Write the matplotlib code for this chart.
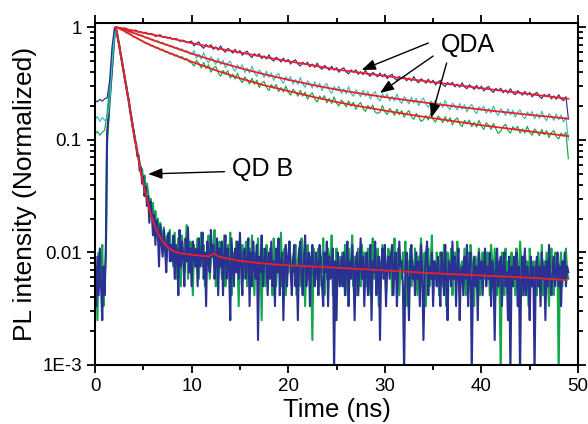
import numpy as np
import matplotlib
matplotlib.use('Agg')
import matplotlib.pyplot as plt
from matplotlib.ticker import LogLocator, MultipleLocator, NullFormatter

# QD A decays, sampled every 0.25 ns, in 1/1000 of the peak
QDA_STEP = 0.25
qda_blue = [
    225, 218, 229, 221, 232, 236, 330, 660, 985, 1000,
    996, 973, 988, 979, 941, 922, 939, 944, 902, 912,
    889, 906, 864, 880, 871, 829, 848, 859, 815, 830,
    801, 818, 780, 797, 789, 751, 770, 763, 729, 745,
    754, 684, 722, 743, 680, 651, 705, 671, 701, 636,
    671, 628, 684, 628, 602, 651, 626, 590, 638, 590,
    622, 565, 596, 615, 562, 539, 584, 557, 582, 528,
    558, 523, 570, 523, 502, 543, 522, 492, 533, 492,
    520, 472, 500, 515, 472, 453, 491, 468, 490, 445,
    471, 441, 481, 441, 424, 459, 440, 416, 451, 416,
    439, 399, 424, 437, 401, 386, 419, 400, 419, 382,
    404, 380, 415, 382, 367, 398, 383, 363, 393, 364,
    385, 350, 371, 383, 352, 338, 367, 351, 368, 335,
    355, 334, 365, 336, 322, 349, 337, 319, 346, 320,
    339, 308, 327, 338, 310, 298, 324, 310, 325, 296,
    313, 294, 321, 296, 285, 309, 297, 281, 306, 283,
    300, 272, 290, 299, 274, 264, 287, 274, 288, 262,
    278, 260, 285, 262, 252, 274, 263, 250, 270, 250,
    265, 241, 256, 264, 243, 233, 254, 242, 255, 231,
    246, 230, 252, 232, 223, 242, 155]
qda_cyan = [
    152, 161, 146, 158, 149, 155, 205, 450, 820, 995,
    978, 991, 947, 952, 911, 925, 878, 893, 851, 862,
    842, 801, 816, 774, 788, 745, 761, 720, 738, 699,
    709, 671, 688, 649, 667, 627, 645, 604, 622, 583,
    577, 621, 530, 580, 520, 596, 518, 483, 550, 515,
    468, 531, 467, 511, 436, 479, 502, 436, 407, 464,
    429, 464, 396, 435, 392, 452, 393, 367, 419, 393,
    358, 409, 360, 395, 338, 372, 391, 340, 318, 364,
    338, 365, 313, 345, 311, 359, 314, 293, 335, 315,
    288, 329, 290, 318, 273, 302, 317, 277, 259, 298,
    276, 300, 258, 284, 257, 297, 260, 244, 279, 263,
    241, 276, 244, 269, 231, 255, 269, 235, 222, 255,
    237, 257, 222, 244, 222, 256, 224, 211, 242, 229,
    209, 240, 212, 234, 201, 223, 236, 206, 194, 222,
    207, 225, 194, 214, 194, 224, 197, 185, 212, 201,
    184, 211, 187, 206, 177, 196, 207, 182, 171, 197,
    184, 199, 172, 190, 173, 200, 175, 165, 190, 179,
    165, 189, 167, 184, 159, 175, 185, 163, 154, 177,
    165, 179, 154, 171, 155, 180, 158, 148, 171, 162,
    149, 170, 151, 167, 144, 159, 100]
qda_green = [
    113, 119, 110, 117, 122, 174, 295, 500, 850, 1000,
    984, 941, 938, 893, 889, 861, 818, 815, 779, 772,
    752, 718, 723, 684, 691, 655, 664, 628, 639, 602,
    611, 578, 591, 555, 569, 536, 549, 514, 528, 493,
    483, 452, 508, 477, 435, 488, 431, 465, 400, 433,
    450, 394, 368, 415, 385, 412, 354, 384, 347, 392,
    344, 322, 364, 342, 314, 353, 312, 339, 292, 318,
    332, 292, 274, 310, 288, 310, 269, 292, 266, 301,
    265, 250, 282, 266, 244, 276, 245, 266, 230, 251,
    262, 231, 217, 246, 229, 247, 213, 233, 211, 241,
    212, 200, 226, 214, 196, 222, 199, 216, 187, 205,
    215, 189, 179, 202, 189, 204, 177, 172, 176, 202,
    178, 168, 190, 180, 165, 188, 168, 182, 159, 173,
    182, 161, 152, 172, 161, 146, 151, 165, 150, 172,
    152, 144, 163, 155, 142, 161, 144, 157, 136, 150,
    157, 139, 131, 149, 139, 150, 131, 143, 130, 149,
    132, 124, 142, 135, 124, 140, 125, 114, 120, 131,
    138, 121, 115, 131, 123, 132, 115, 125, 115, 132,
    116, 110, 125, 118, 109, 124, 111, 121, 105, 116,
    121, 107, 102, 115, 108, 117, 68]

# fitted curves for QD A
qda_fit_t = [2.25, 3, 4, 5, 6, 7.5, 10, 12.5, 15, 17.5, 20, 22.5, 25,
             27.5, 30, 32.5, 35, 37.5, 40, 42.5, 45, 47.5, 49]
qda_blue_fit = [1.0, 0.97, 0.935, 0.895, 0.86, 0.81, 0.725, 0.655, 0.598, 0.545,
                0.50, 0.46, 0.422, 0.395, 0.370, 0.347, 0.326, 0.306, 0.288,
                0.271, 0.255, 0.240, 0.232]
qda_cyan_fit = [1.0, 0.955, 0.89, 0.83, 0.77, 0.695, 0.585, 0.50, 0.435, 0.383,
                0.342, 0.308, 0.28, 0.258, 0.240, 0.224, 0.210, 0.197, 0.186,
                0.176, 0.167, 0.159, 0.154]
qda_green_fit = [1.0, 0.93, 0.83, 0.745, 0.68, 0.60, 0.495, 0.415, 0.352, 0.306,
                 0.272, 0.242, 0.217, 0.198, 0.182, 0.168, 0.156, 0.145, 0.135,
                 0.127, 0.119, 0.112, 0.108]

# QD B decays, photon counts every 0.125 ns
QDB_STEP = 0.125
QDB_PEAK = 1200
qdb_blue = [
    7, 4, 11, 5, 13, 6, 3, 9, 5,
    14, 137, 190, 266, 371, 514, 716, 998, 1200,
    1101, 948, 842, 711, 630, 534, 472, 398, 357, 296, 270, 218, 197,
    158, 146, 117, 112, 86, 88, 64, 69, 49, 56, 38, 46, 31,
    38, 22, 34, 27, 17, 26, 14, 23, 19, 9, 21, 15, 11, 19, 13, 8, 16, 18, 10, 14,
    10, 17, 7, 14, 12, 5, 19, 9, 15, 11, 6, 16, 10, 20, 8, 13, 6, 15, 12, 9,
    13, 6, 16, 9, 11, 18, 7, 12, 4, 15, 10, 8, 19, 11, 14, 7, 10, 16, 5, 13,
    9, 15, 5, 11, 17, 7, 13, 9, 3, 16, 10, 6, 13, 8, 15, 7, 18, 9, 5, 12,
    13, 7, 10, 16, 4, 12, 6, 15, 9, 7, 14, 2, 11, 8, 17, 6, 9, 13, 10, 5,
    12, 7, 15, 6, 10, 4, 13, 8, 16, 5, 10, 12, 3, 9, 14, 6, 11, 15, 8, 5,
    10, 14, 6, 9, 3, 12, 15, 8, 5, 11, 17, 6, 9, 12, 4, 10, 14, 8, 6, 12,
    9, 5, 14, 10, 6, 4, 12, 8, 15, 4, 11, 7, 9, 13, 1, 10, 3, 12, 8, 6,
    11, 6, 12, 5, 9, 15, 4, 10, 7, 14, 8, 3, 10, 12, 5, 9, 16, 7, 11, 4,
    9, 12, 5, 7, 14, 3, 10, 8, 15, 5, 8, 11, 2, 9, 13, 7, 14, 4, 9, 11,
    7, 11, 14, 5, 9, 12, 4, 8, 15, 9, 10, 6, 1, 9, 12, 7, 3, 10, 14, 7,
    9, 5, 12, 7, 10, 4, 14, 8, 2, 7, 11, 15, 5, 9, 7, 12, 4, 10, 9, 6,
    11, 7, 4, 12, 9, 5, 14, 7, 3, 10, 9, 6, 15, 7, 11, 4, 9, 13, 3, 8,
    9, 5, 11, 7, 14, 4, 9, 12, 1, 7, 11, 6, 9, 3, 12, 7, 10, 5, 9, 13,
    6, 9, 7, 12, 4, 10, 8, 2, 9, 13, 6, 8, 11, 4, 9, 12, 6, 8, 3, 11,
    1, 9, 6, 11, 7, 12, 4, 9, 1, 8, 11, 5, 13, 5, 9, 7, 3, 11, 6, 9,
    1, 8, 11, 6, 9, 4, 12, 7, 9, 3, 10, 6, 14, 7, 5, 9, 11, 6, 8, 12,
    6, 9, 4, 10, 7, 12, 6, 9, 8]
qdb_green = [
    5, 9, 3, 12, 6, 8, 14, 4, 7,
    11, 118, 172, 251, 356, 498, 702, 985, 1200,
    1088, 957, 826, 722, 618, 545, 461, 409, 346, 309, 258, 229, 186,
    170, 138, 128, 104, 97, 84, 76, 60, 66, 51, 58, 43, 49,
    41, 30, 36, 25, 33, 20, 28, 17, 24, 13, 22, 18, 12, 20, 15, 10, 17, 13, 19, 11,
    14, 9, 18, 7, 12, 16, 10, 6, 17, 12, 8, 14, 21, 7, 11, 15, 12, 5, 14, 9,
    11, 16, 7, 13, 18, 9, 14, 6, 12, 10, 17, 7, 10, 14, 12, 19, 6, 11, 9, 15,
    12, 7, 11, 17, 6, 10, 14, 10, 18, 5, 12, 9, 8, 15, 11, 4, 13, 9, 14, 7,
    10, 15, 6, 11, 13, 8, 17, 9, 5, 12, 11, 16, 7, 10, 3, 13, 11, 6, 14, 9,
    8, 13, 10, 5, 16, 11, 6, 10, 14, 8, 18, 6, 10, 13, 5, 11, 8, 15, 10, 7,
    11, 8, 14, 5, 10, 13, 6, 16, 8, 11, 4, 10, 14, 7, 11, 8, 2, 13, 10, 7,
    10, 13, 6, 11, 8, 16, 5, 10, 7, 13, 11, 8, 17, 5, 10, 8, 13, 6, 11, 9,
    8, 12, 6, 14, 10, 5, 13, 8, 10, 17, 6, 11, 9, 5, 13, 10, 6, 14, 8, 12,
    10, 6, 13, 8, 5, 11, 16, 7, 10, 8, 13, 4, 10, 7, 14, 8, 11, 5, 10, 13,
    8, 12, 5, 10, 16, 7, 9, 13, 5, 10, 7, 12, 8, 15, 4, 10, 8, 13, 6, 10,
    7, 13, 8, 5, 11, 10, 16, 7, 9, 12, 4, 10, 13, 6, 9, 17, 5, 10, 7, 12,
    9, 5, 12, 10, 6, 14, 8, 4, 12, 7, 10, 13, 5, 9, 12, 7, 15, 10, 5, 9,
    10, 6, 13, 5, 9, 12, 7, 14, 10, 8, 4, 11, 7, 10, 13, 5, 9, 12, 7, 10,
    7, 12, 9, 5, 14, 10, 6, 13, 8, 5, 10, 7, 1, 12, 9, 5, 13, 7, 10, 8,
    9, 12, 7, 10, 5, 13, 9, 6, 15, 10, 5, 9, 12, 7, 10, 4, 13, 8, 6, 10,
    7, 10, 5, 12, 9, 6, 14, 5, 10, 8, 12, 7, 4, 10, 13, 8, 5, 12, 7, 9,
    1, 9, 12, 6, 10, 7, 13, 8, 7]

# fitted curve for QD B
qdb_fit_t = [2.125, 2.25, 2.5, 2.75, 3.0, 3.25, 3.5, 3.75, 4.0, 4.25, 4.5, 4.75,
             5.0, 5.25, 5.5, 5.75, 6.0, 6.25, 6.5, 6.75, 7.0, 7.5, 8.0, 8.5, 9.0,
             10.0, 11.0, 11.8, 12.0, 12.25, 12.5, 12.75, 13.5, 15.0, 17.0, 20.0,
             25.0, 30.0, 35.0, 40.0, 45.0, 48.8]
qdb_fit = [1.0, 0.912, 0.692, 0.519, 0.389, 0.292, 0.219, 0.158, 0.117, 0.0891,
           0.0676, 0.0513, 0.0407, 0.0331, 0.0269, 0.0221, 0.0191, 0.0166, 0.0148,
           0.0136, 0.0126, 0.0112, 0.0104, 0.0100, 0.00977, 0.00955, 0.00933,
           0.00923, 0.00944, 0.00977, 0.00955, 0.00923, 0.00891, 0.00841, 0.00804,
           0.00767, 0.00731, 0.00692, 0.00653, 0.00624, 0.00596, 0.00569]

BLUE = '#2a3192'
CYAN = '#3cbfbf'
GREEN = '#12a84a'
RED = '#ec2027'

plt.rcParams['font.family'] = ['Liberation Sans', 'DejaVu Sans']

fig = plt.figure(figsize=(5.88, 4.24), dpi=100)
ax = fig.add_axes([0.1616, 0.1392, 0.8214, 0.8073])

# QD B traces (green under blue)
for counts, col in ((qdb_green, GREEN), (qdb_blue, BLUE)):
    t = np.arange(len(counts)) * QDB_STEP
    ax.plot(t, np.array(counts) / QDB_PEAK, color=col, lw=1.5)

# QD A traces
for vals, col in ((qda_green, GREEN), (qda_cyan, CYAN), (qda_blue, BLUE)):
    t = np.arange(len(vals)) * QDA_STEP
    ax.plot(t, np.array(vals) / 1000, color=col, lw=0.85)

# fits
for fit in (qda_blue_fit, qda_cyan_fit, qda_green_fit):
    ax.plot(qda_fit_t, fit, color=RED, lw=1.3)
ax.plot(qdb_fit_t, qdb_fit, color=RED, lw=1.3)

ax.set_yscale('log')
ax.set_xlim(0, 50)
ax.set_ylim(1e-3, 1.1)
ax.set_yticks([1e-3, 1e-2, 0.1, 1])
ax.set_yticklabels(['1E-3', '0.01', '0.1', '1'])
ax.yaxis.set_minor_locator(LogLocator(base=10, subs=np.arange(2, 10)))
ax.yaxis.set_minor_formatter(NullFormatter())
ax.xaxis.set_major_locator(MultipleLocator(10))
ax.xaxis.set_minor_locator(MultipleLocator(5))

ax.tick_params(which='both', direction='out', top=True, right=True,
               labeltop=False, labelright=False, width=1.3, labelsize=13.5)
ax.tick_params(which='major', length=6)
ax.tick_params(which='minor', length=3.5)
for sp in ax.spines.values():
    sp.set_linewidth(1.5)

ax.set_xlabel('Time (ns)', fontsize=18.5, labelpad=2)
ax.set_ylabel('PL intensity (Normalized)', fontsize=19, labelpad=4)

arrow = dict(arrowstyle='-|>,head_length=0.6,head_width=0.23', color='black',
             lw=1, mutation_scale=14, shrinkA=0, shrinkB=0)
ax.annotate('', xy=(27.6, 0.418), xytext=(34.5, 0.726), arrowprops=arrow)
ax.annotate('', xy=(29.5, 0.261), xytext=(35.0, 0.556), arrowprops=arrow)
ax.annotate('', xy=(34.8, 0.157), xytext=(36.4, 0.482), arrowprops=arrow)
ax.annotate('', xy=(5.5, 0.0498), xytext=(13.4, 0.0522), arrowprops=arrow)
ax.text(38.6, 0.696, 'QDA', fontsize=18, ha='center', va='center')
ax.text(17.3, 0.0546, 'QD B', fontsize=18, ha='center', va='center')

fig.savefig('out.png', dpi=100)
